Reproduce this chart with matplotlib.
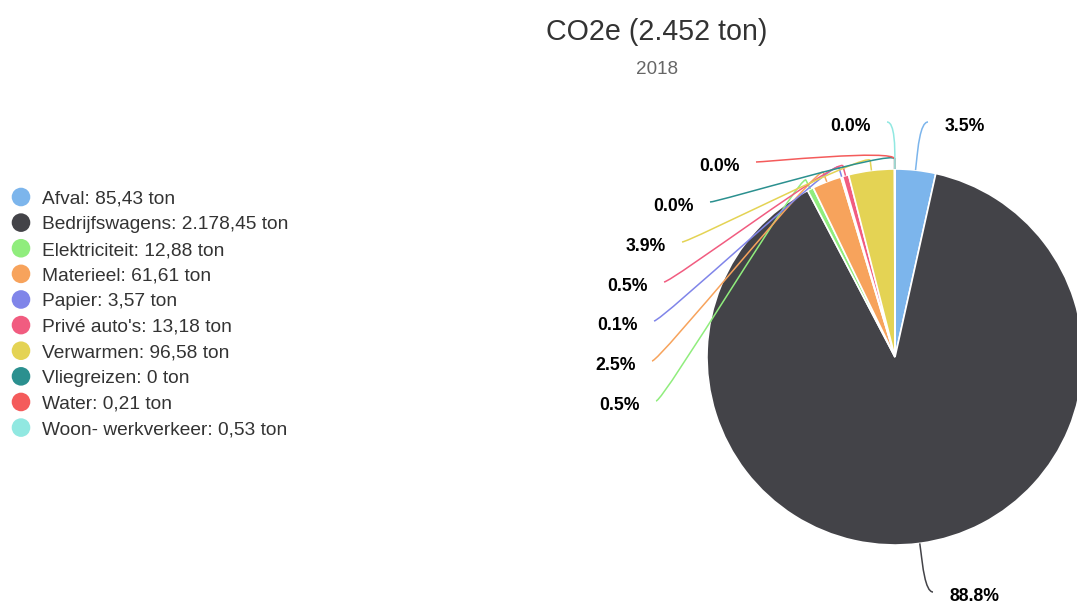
import numpy as np
import matplotlib
matplotlib.use("Agg")
import matplotlib.pyplot as plt
from matplotlib.patches import Circle, PathPatch
from matplotlib.path import Path

plt.rcParams['font.family'] = ['Liberation Sans', 'DejaVu Sans']

# ---- data ----
title_text = "CO2e"
subtitle_text = "2018"
categories = ["Afval", "Bedrijfswagens", "Elektriciteit", "Materieel", "Papier",
              "Privé auto's", "Verwarmen", "Vliegreizen", "Water", "Woon- werkverkeer"]
values = [85.43, 2178.45, 12.88, 61.61, 3.57, 13.18, 96.58, 0, 0.21, 0.53]
colors = ["#7cb5ec", "#434348", "#90ed7d", "#f7a35c", "#8085e9",
          "#f15c80", "#e4d354", "#2b908f", "#f45b5b", "#91e8e1"]

# ---- layout (pixels, from top-left) ----
W, H = 1077, 603
cx, cy, R = 895, 357, 188
# connector end points for the data labels, and side of the label
label_ends = [(928, 122, 'r'), (933, 592, 'r'), (656, 401, 'l'), (652, 361, 'l'),
              (654, 321, 'l'), (664, 282, 'l'), (682, 242, 'l'), (710, 202, 'l'),
              (756, 162, 'l'), (887, 122, 'l')]


def fy(y):
    return H - y


def fmt_nl(v, dec=2):
    if dec == 0 or float(v).is_integer():
        s = f"{v:,.0f}"
    else:
        s = f"{v:,.{dec}f}"
    return s.replace(",", "X").replace(".", ",").replace("X", ".")


total = sum(values)

fig = plt.figure(figsize=(W / 100, H / 100), dpi=100)
ax = fig.add_axes([0, 0, 1, 1])

wedges, _ = ax.pie(values, colors=colors, startangle=90, counterclock=False,
                   center=(cx, fy(cy)), radius=R,
                   wedgeprops=dict(edgecolor='white', linewidth=1.2))
ax.set_xlim(0, W)
ax.set_ylim(0, H)
ax.set_aspect('equal')
ax.axis('off')

# data labels with soft connectors
fracs = np.array(values) / total
cum = np.concatenate([[0], np.cumsum(fracs)[:-1]])
for i, v in enumerate(values):
    theta = np.deg2rad(360 * (cum[i] + fracs[i] / 2))
    d = np.array([np.sin(theta), np.cos(theta)])
    c = np.array([cx, fy(cy)])
    E = c + R * d
    B = c + (R + 10) * d
    C2 = c + (R + 20) * d
    lx, ly, side = label_ends[i]
    L = np.array([lx, fy(ly)])
    C1 = L + np.array([8 if side == 'l' else -8, 0])
    verts = [tuple(L), tuple(C1), tuple(C2), tuple(B), tuple(E)]
    codes = [Path.MOVETO, Path.CURVE4, Path.CURVE4, Path.CURVE4, Path.LINETO]
    ax.add_patch(PathPatch(Path(verts, codes), fill=False, edgecolor=colors[i],
                           lw=1.1, zorder=1))
    pct = f"{100 * v / total:.1f}%"
    if side == 'l':
        ax.text(lx - 16, fy(ly + 4.5), pct, ha='right', va='center',
                fontsize=12.7, fontweight='bold', color='#000000')
    else:
        ax.text(lx + 17, fy(ly + 4.5), pct, ha='left', va='center',
                fontsize=12.7, fontweight='bold', color='#000000')

# title & subtitle
ax.text(657, fy(39.5), f"{title_text} ({fmt_nl(total, 0)} ton)", ha='center',
        va='baseline', fontsize=20.6, color='#333333')
ax.text(657, fy(74), subtitle_text, ha='center', va='baseline', fontsize=13.6,
        color='#666666')

# legend
for i, (cat, v) in enumerate(zip(categories, values)):
    yb = 203.8 + 25.62 * i
    ax.add_patch(Circle((21, fy(yb - 6.8)), 9.3, facecolor=colors[i], edgecolor='none'))
    ax.text(42, fy(yb), f"{cat}: {fmt_nl(v)} ton", ha='left', va='baseline',
            fontsize=13.75, color='#333333')

fig.savefig("out.png", dpi=100)
